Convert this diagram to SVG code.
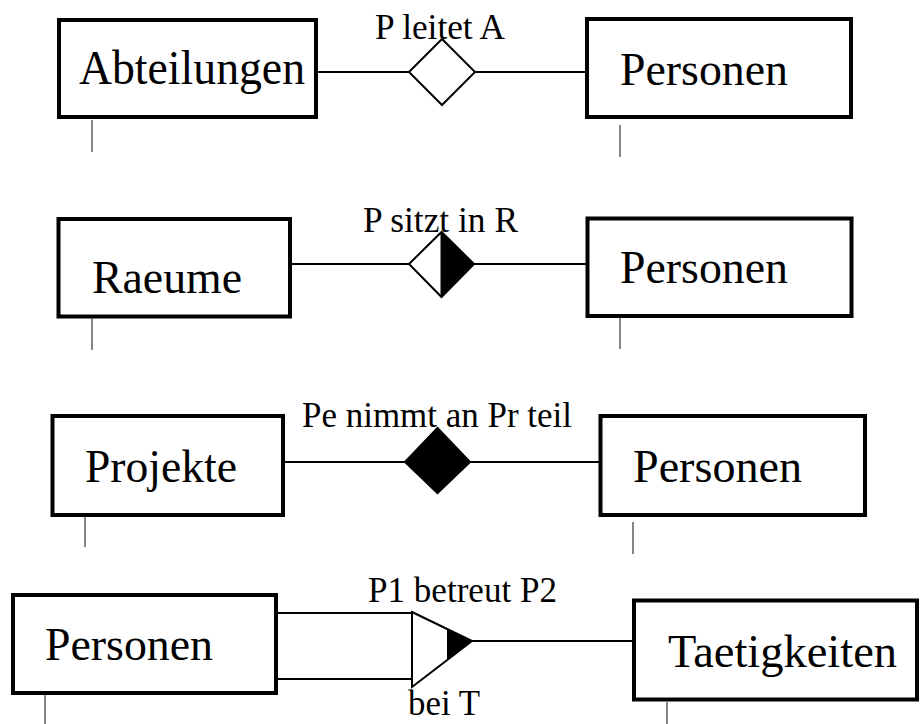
<svg xmlns="http://www.w3.org/2000/svg" width="920" height="724" viewBox="0 0 920 724">
  <style>
    .entity { fill: #ffffff; stroke: #000000; stroke-width: 4; }
    .name { font-family: 'Liberation Serif', 'Times New Roman', Tinos, 'Nimbus Roman', 'DejaVu Serif', serif; font-size: 46px; fill: #000000; }
    .label { font-family: 'Liberation Serif', 'Times New Roman', Tinos, 'Nimbus Roman', 'DejaVu Serif', serif; font-size: 35px; fill: #000000; }
    .link { stroke: #000000; stroke-width: 2; fill: none; }
    .rel { stroke: #000000; stroke-width: 2; stroke-linejoin: miter; }
    .tick { stroke: #444444; stroke-width: 1.3; }
  </style>
  <rect width="920" height="724" fill="#ffffff"/>

  <!-- connecting lines between entities and relationship symbols -->
  <g id="connectors">
    <line class="link" x1="318" y1="72" x2="409" y2="72"/>
    <line class="link" x1="475" y1="72" x2="587" y2="72"/>
    <line class="link" x1="290" y1="264" x2="409" y2="264"/>
    <line class="link" x1="474" y1="264" x2="588" y2="264"/>
    <line class="link" x1="283" y1="462" x2="405" y2="462"/>
    <line class="link" x1="470" y1="462" x2="600" y2="462"/>
    <line class="link" x1="276" y1="613" x2="412" y2="613"/>
    <line class="link" x1="276" y1="679" x2="412" y2="679"/>
    <line class="link" x1="472" y1="641" x2="634" y2="641"/>
  </g>

  <!-- row 1 -->
  <g id="abteilungen">
    <rect class="entity" x="59" y="20" width="257" height="97"/>
    <text class="name" x="79" y="84" style="font-size:48px" textLength="226" lengthAdjust="spacingAndGlyphs">Abteilungen</text>
    <line class="tick" x1="92" y1="120" x2="92" y2="152"/>
  </g>
  <g id="p-leitet-a">
    <polygon class="rel" points="409,72 442,39 475,72 442,105" fill="#ffffff"/>
    <text class="label" x="375" y="39" textLength="130" lengthAdjust="spacingAndGlyphs">P leitet A</text>
  </g>
  <g id="personen-1">
    <rect class="entity" x="587" y="19" width="264" height="98"/>
    <text class="name" x="620" y="85" textLength="168" lengthAdjust="spacingAndGlyphs">Personen</text>
    <line class="tick" x1="620" y1="125" x2="620" y2="157"/>
  </g>

  <!-- row 2 -->
  <g id="raeume">
    <rect class="entity" x="58.5" y="219" width="231.5" height="97.5"/>
    <text class="name" x="92" y="293" textLength="150" lengthAdjust="spacingAndGlyphs">Raeume</text>
    <line class="tick" x1="92" y1="318" x2="92" y2="350"/>
  </g>
  <g id="p-sitzt-in-r">
    <polygon points="441.5,232 474,264 441.5,297" fill="#000000"/>
    <polygon class="rel" points="409,264 441.5,232 474,264 441.5,297" fill="none"/>
    <line class="rel" x1="441.5" y1="232" x2="441.5" y2="297"/>
    <text class="label" x="363" y="232" textLength="155" lengthAdjust="spacingAndGlyphs">P sitzt in R</text>
  </g>
  <g id="personen-2">
    <rect class="entity" x="587.5" y="218.5" width="264" height="97.5"/>
    <text class="name" x="620" y="283" textLength="168" lengthAdjust="spacingAndGlyphs">Personen</text>
    <line class="tick" x1="620" y1="318" x2="620" y2="349"/>
  </g>

  <!-- row 3 -->
  <g id="projekte">
    <rect class="entity" x="52.5" y="416" width="230.5" height="99"/>
    <text class="name" x="85" y="482" textLength="152" lengthAdjust="spacingAndGlyphs">Projekte</text>
    <line class="tick" x1="85" y1="517" x2="85" y2="547"/>
  </g>
  <g id="pe-nimmt-an-pr-teil">
    <polygon class="rel" points="405,462 437.5,428 470,462 437.5,493" fill="#000000"/>
    <text class="label" x="302" y="427" textLength="270" lengthAdjust="spacingAndGlyphs">Pe nimmt an Pr teil</text>
  </g>
  <g id="personen-3">
    <rect class="entity" x="600.5" y="416" width="264.5" height="99"/>
    <text class="name" x="633" y="482" textLength="169" lengthAdjust="spacingAndGlyphs">Personen</text>
    <line class="tick" x1="633" y1="522" x2="633" y2="554"/>
  </g>

  <!-- row 4 -->
  <g id="personen-4">
    <rect class="entity" x="13" y="595" width="263" height="98"/>
    <text class="name" x="45" y="660" textLength="168" lengthAdjust="spacingAndGlyphs">Personen</text>
    <line class="tick" x1="45" y1="695" x2="45" y2="724"/>
  </g>
  <g id="p1-betreut-p2">
    <polygon class="rel" points="412,612 472,641 412,687" fill="#ffffff"/>
    <polygon points="447,629 472,641 447,660" fill="#000000"/>
    <text class="label" x="368" y="602" textLength="189" lengthAdjust="spacingAndGlyphs">P1 betreut P2</text>
    <text class="label" x="408" y="715" textLength="72" lengthAdjust="spacingAndGlyphs">bei T</text>
  </g>
  <g id="taetigkeiten">
    <rect class="entity" x="634" y="600.5" width="283" height="99"/>
    <text class="name" x="668" y="667" textLength="229" lengthAdjust="spacingAndGlyphs">Taetigkeiten</text>
    <line class="tick" x1="667" y1="702" x2="667" y2="724"/>
  </g>
</svg>
